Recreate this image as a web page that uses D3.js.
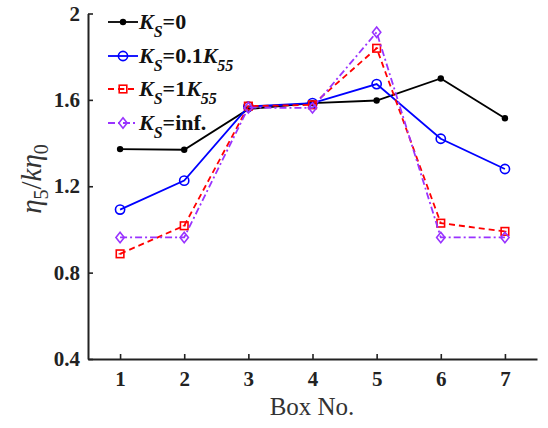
<!DOCTYPE html>
<html>
<head>
<meta charset="utf-8">
<script src="https://cdn.jsdelivr.net/npm/d3@7"></script>
<style>
  html, body { margin: 0; padding: 0; background: #fff; }
  svg { display: block; }
  text { font-family: "Liberation Serif", "Times New Roman", serif; }
</style>
</head>
<body>
<svg id="chart" width="548" height="428"></svg>
<script>
// Box numbers along the x axis
const boxes = [1, 2, 3, 4, 5, 6, 7];
// eta_5 / (k eta_0) for each stiffness case
const ks0      = [1.372, 1.369, 1.557, 1.585, 1.597, 1.699, 1.515];
const ks01K55  = [1.092, 1.226, 1.569, 1.585, 1.673, 1.420, 1.280];
const ks1K55   = [0.887, 1.017, 1.571, 1.577, 1.839, 1.029, 0.991];
const ksInf    = [0.963, 0.963, 1.564, 1.563, 1.913, 0.963, 0.963];
const yTicks   = [0.4, 0.8, 1.2, 1.6, 2];
const yTickLabels = ["0.4", "0.8", "1.2", "1.6", "2"];

const series = [
  { values: ks0,     color: "#000000", dash: null,      marker: "dot",     sub: "S", rest: "=0",    sub2: null },
  { values: ks01K55, color: "#0000ff", dash: null,      marker: "circle",  sub: "S", rest: "=0.1",  sub2: "55" },
  { values: ks1K55,  color: "#ff0000", dash: "6,4",     marker: "square",  sub: "S", rest: "=1",    sub2: "55" },
  { values: ksInf,   color: "#9933ff", dash: "7,3,2,3", marker: "diamond", sub: "S", rest: "=inf.", sub2: null }
];

const svg = d3.select("#chart");
const x = d3.scaleLinear().domain([0.5, 7.5]).range([88, 537]);
const y = d3.scaleLinear().domain([0.4, 2]).range([359, 13.5]);

// Axes (ticks point inward)
const xAxis = d3.axisBottom(x).tickValues(boxes).tickFormat(d3.format("d")).tickSizeInner(-5).tickSizeOuter(0).tickPadding(12);
const yAxis = d3.axisLeft(y).tickValues(yTicks).tickFormat((d, i) => yTickLabels[i]).tickSizeInner(-5).tickSizeOuter(0).tickPadding(8);

const gx = svg.append("g").attr("transform", "translate(0,359)").call(xAxis);
const gy = svg.append("g").attr("transform", "translate(88,0)").call(yAxis);
[gx, gy].forEach(g => {
  g.select(".domain").attr("stroke", "#222").attr("stroke-width", 2);
  g.selectAll(".tick line").attr("stroke", "#222").attr("stroke-width", 1.6);
  g.selectAll(".tick text")
    .attr("fill", "#222")
    .style("font-family", "'Liberation Serif', serif")
    .style("font-weight", "bold")
    .style("font-size", "21px");
});
gx.selectAll(".tick text").attr("dy", "0.71em");

// Axis titles
svg.append("text")
  .attr("x", 312).attr("y", 415)
  .attr("text-anchor", "middle")
  .style("font-size", "25px")
  .attr("fill", "#333")
  .text("Box No.");

const yl = svg.append("text")
  .attr("transform", "translate(41,179) rotate(-90)")
  .attr("text-anchor", "middle")
  .style("font-size", "29px")
  .attr("fill", "#333");
yl.append("tspan").style("font-style", "italic").text("η");
yl.append("tspan").attr("dy", 7).style("font-size", "20px").text("5");
yl.append("tspan").attr("dy", -7).text("/");
yl.append("tspan").style("font-style", "italic").text("kη");
yl.append("tspan").attr("dy", 7).style("font-size", "20px").text("0");

// Marker drawing
function drawMarker(g, type, color, cx, cy) {
  if (type === "dot") {
    g.append("circle").attr("cx", cx).attr("cy", cy).attr("r", 3.2).attr("fill", color);
  } else if (type === "circle") {
    g.append("circle").attr("cx", cx).attr("cy", cy).attr("r", 4.6)
      .attr("fill", "none").attr("stroke", color).attr("stroke-width", 1.6);
  } else if (type === "square") {
    g.append("rect").attr("x", cx - 3.8).attr("y", cy - 3.8).attr("width", 7.6).attr("height", 7.6)
      .attr("fill", "none").attr("stroke", color).attr("stroke-width", 1.6);
    g.append("line").attr("x1", cx - 1.5).attr("x2", cx + 1.5).attr("y1", cy).attr("y2", cy)
      .attr("stroke", color).attr("stroke-width", 1.2);
  } else if (type === "diamond") {
    const r = 5.2;
    g.append("path")
      .attr("d", `M${cx},${cy - r}L${cx + r * 0.8},${cy}L${cx},${cy + r}L${cx - r * 0.8},${cy}Z`)
      .attr("fill", "none").attr("stroke", color).attr("stroke-width", 1.6);
  }
}

const line = d3.line().x((d, i) => x(boxes[i])).y(d => y(d));

series.forEach(s => {
  const g = svg.append("g");
  g.append("path")
    .datum(s.values)
    .attr("d", line)
    .attr("fill", "none")
    .attr("stroke", s.color)
    .attr("stroke-width", 1.8)
    .attr("stroke-dasharray", s.dash);
  s.values.forEach((v, i) => drawMarker(g, s.marker, s.color, x(boxes[i]), y(v)));
});

// Legend
const legY = [22, 56, 89, 123];
series.forEach((s, i) => {
  const g = svg.append("g");
  const ly = legY[i];
  g.append("line").attr("x1", 108).attr("x2", 138).attr("y1", ly).attr("y2", ly)
    .attr("stroke", s.color).attr("stroke-width", 1.8).attr("stroke-dasharray", s.dash);
  drawMarker(g, s.marker, s.color, 123, ly);
  const t = g.append("text").attr("x", 139).attr("y", ly + 7)
    .style("font-size", "22px").style("font-weight", "bold").attr("fill", "#111");
  t.append("tspan").style("font-style", "italic").text("K");
  t.append("tspan").attr("dy", 8).style("font-style", "italic").style("font-size", "16px").text(s.sub);
  t.append("tspan").attr("dy", -8).text(s.rest);
  if (s.sub2) {
    t.append("tspan").style("font-style", "italic").text("K");
    t.append("tspan").attr("dy", 8).style("font-style", "italic").style("font-size", "16px").text(s.sub2);
  }
});
</script>
</body>
</html>
